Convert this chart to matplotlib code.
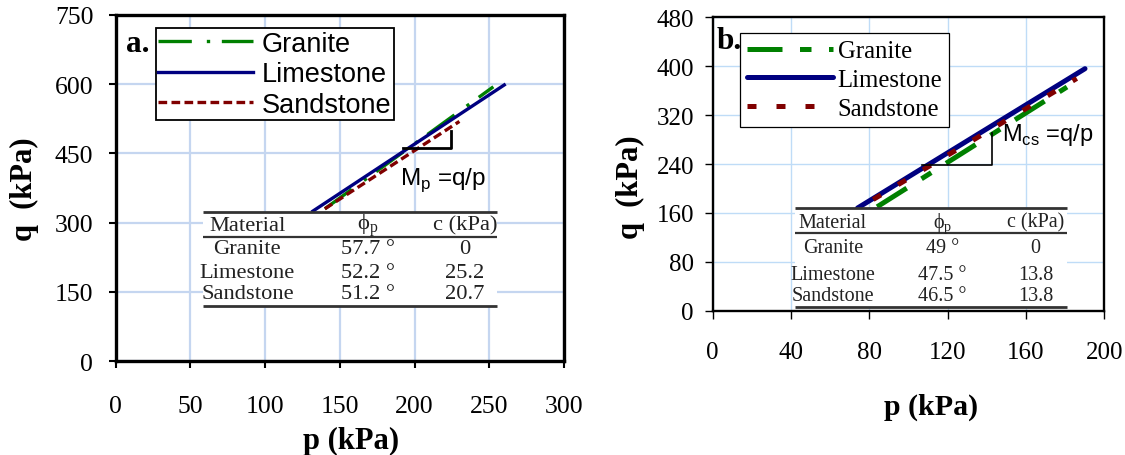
import matplotlib
matplotlib.use("Agg")
import matplotlib.pyplot as plt
from matplotlib.patches import Rectangle

SERIF = ["Liberation Serif", "DejaVu Serif"]
SANS = ["Liberation Sans", "DejaVu Sans"]

materials = ["Granite", "Limestone", "Sandstone"]
line_colors = ["#008000", "#000080", "#800000"]

# panel a: peak state lines (end points)
p_a_granite = [140, 252.7]
q_a_granite = [330, 594]
p_a_limestone = [132, 260]
q_a_limestone = [325, 598]
p_a_sandstone = [140, 230]
q_a_sandstone = [330, 519]

# panel b: critical state lines
p_b_granite = [84, 181]
q_b_granite = [170, 366]
p_b_limestone = [74, 190.2]
q_b_limestone = [168, 396]
p_b_sandstone = [82, 186]
q_b_sandstone = [182, 380]

# slope triangles
tri_a_p = [192.5, 224.2, 224.2]
tri_a_q = [461.6, 461.6, 499]
tri_b_p = [106.8, 142.6, 142.6]
tri_b_q = [237.8, 237.8, 290]

# inset tables
phi_a = ["57.7 °", "52.2 °", "51.2 °"]
c_a = ["0", "25.2", "20.7"]
phi_b = ["49 °", "47.5 °", "46.5 °"]
c_b = ["0", "13.8", "13.8"]

xticks_a = [0, 50, 100, 150, 200, 250, 300]
yticks_a = [0, 150, 300, 450, 600, 750]
xticks_b = [0, 40, 80, 120, 160, 200]
yticks_b = [0, 80, 160, 240, 320, 400, 480]

fig = plt.figure(figsize=(11.25, 4.56), dpi=100)
ax_a = fig.add_axes([0.1027, 0.2055, 0.3987, 0.7601])
ax_b = fig.add_axes([0.6335, 0.3164, 0.348, 0.6434])


def style_axes(ax, xt, yt, spine_w, tick_size, xpad, ypad, grid_c, grid_w,
               tick_w, tick_len):
    ax.set_xlim(xt[0], xt[-1])
    ax.set_ylim(yt[0], yt[-1])
    ax.set_xticks(xt)
    ax.set_yticks(yt)
    ax.grid(True, color=grid_c, lw=grid_w, zorder=0)
    ax.set_axisbelow(True)
    for s in ax.spines.values():
        s.set_linewidth(spine_w)
        s.set_color("black")
    ax.tick_params(axis="both", direction="out", length=tick_len,
                   width=tick_w, labelsize=tick_size)
    ax.tick_params(axis="x", pad=xpad)
    ax.tick_params(axis="y", pad=ypad)
    for lab in ax.get_xticklabels() + ax.get_yticklabels():
        lab.set_family(SERIF)


def draw_table(ax, x0, x1, y_top, y_mid, y_bot, rows_y, cols_x, phis, cs, fs):
    ax.add_patch(Rectangle((x0, y_bot), x1 - x0, y_top - y_bot,
                           transform=ax.transAxes, facecolor="white",
                           edgecolor="none", zorder=5))
    for y, lw in [(y_top, 2.0), (y_mid, 1.6), (y_bot, 2.0)]:
        ax.plot([x0, x1], [y, y], transform=ax.transAxes, color="#333333",
                lw=lw, zorder=6, solid_capstyle="butt", clip_on=False)
    header = ["Material", "ϕ$_\\mathregular{p}$", "c (kPa)"]
    for cx, h in zip(cols_x, header):
        ax.text(cx, rows_y[0], h, transform=ax.transAxes, ha="center",
                va="center", fontsize=fs, family=SERIF, color="#222222",
                zorder=7)
    for i, name in enumerate(materials):
        y = rows_y[i + 1]
        for cx, t in zip(cols_x, [name, phis[i], cs[i]]):
            ax.text(cx, y, t, transform=ax.transAxes, ha="center",
                    va="center", fontsize=fs, family=SERIF,
                    color="#222222", zorder=7)


# ---------------- panel a ----------------
style_axes(ax_a, xticks_a, yticks_a, 2.4, 18.5, 19, 11,
           "#c5d6f0", 1.6, 1.5, 5)
ax_a.plot(p_a_granite, q_a_granite, color=line_colors[0], lw=2.4,
          dashes=(10, 4.5, 1, 3.5), label="Granite", zorder=3)
ax_a.plot(p_a_limestone, q_a_limestone, color=line_colors[1], lw=2.4,
          label="Limestone", zorder=3)
ax_a.plot(p_a_sandstone, q_a_sandstone, color=line_colors[2], lw=2.4,
          dashes=(2.6, 1.3), label="Sandstone", zorder=3)
ax_a.plot(tri_a_p, tri_a_q, color="black", lw=2.0, zorder=4)
ax_a.text(0.635, 0.512, "M$_\\mathregular{p}$ =q/p", transform=ax_a.transAxes,
          fontsize=17.5, family=SANS, va="baseline", ha="left")
ax_a.text(0.0495, 0.918, "a.", transform=ax_a.transAxes, fontsize=22.5,
          family=SERIF, weight="bold", ha="center", va="center")
leg_a = ax_a.legend(loc="upper left", bbox_to_anchor=(0.0895, 0.962),
                    borderaxespad=0, prop={"family": SANS, "size": 19.5},
                    handlelength=3.5, handletextpad=0.33, labelspacing=0.17,
                    borderpad=0.1, fancybox=False, framealpha=1)
leg_a.get_frame().set_edgecolor("black")
leg_a.get_frame().set_linewidth(1.3)
draw_table(ax_a, 0.196, 0.850, 0.4316, 0.3595, 0.1587,
           [0.3932, 0.324, 0.2568, 0.1942], [0.294, 0.562, 0.779],
           phi_a, c_a, 16.2)
ax_a.set_xlabel("p (kPa)", fontsize=22, family=SERIF, weight="bold")
ax_a.set_ylabel("q  (kPa)", fontsize=22, family=SERIF, weight="bold")
ax_a.xaxis.set_label_coords(0.524, -0.186)
ax_a.yaxis.set_label_coords(-0.1706, 0.4994)

# ---------------- panel b ----------------
style_axes(ax_b, xticks_b, yticks_b, 1.7, 18, 16, 8,
           "#bfdcf7", 1.0, 1.0, 5.5)
ax_b.plot(p_b_granite, q_b_granite, color=line_colors[0], lw=3.6,
          dashes=(7, 3.5, 2.3, 3.5), label="Granite", zorder=3)
ax_b.plot(p_b_limestone, q_b_limestone, color=line_colors[1], lw=3.6,
          label="Limestone", zorder=3, solid_capstyle="round")
ax_b.plot(p_b_sandstone, q_b_sandstone, color=line_colors[2], lw=3.6,
          dashes=(1.8, 4), label="Sandstone", zorder=3)
ax_b.plot(tri_b_p, tri_b_q, color="black", lw=1.2, zorder=4)
ax_b.text(0.740, 0.581, "M$_\\mathregular{cs}$ =q/p", transform=ax_b.transAxes,
          fontsize=17, family=SANS, va="baseline", ha="left")
ax_b.text(0.042, 0.921, "b.", transform=ax_b.transAxes, fontsize=22.5,
          family=SERIF, weight="bold", ha="center", va="center")
leg_b = ax_b.legend(loc="upper left", bbox_to_anchor=(0.0702, 0.9466),
                    borderaxespad=0, prop={"family": SERIF, "size": 17.8},
                    handlelength=3.46, handletextpad=0.2, labelspacing=0.26,
                    borderpad=0.28, fancybox=False, framealpha=1)
leg_b.get_frame().set_edgecolor("black")
leg_b.get_frame().set_linewidth(0.9)
draw_table(ax_b, 0.210, 0.904, 0.349, 0.2638, 0.0116,
           [0.3013, 0.2161, 0.1251, 0.0511], [0.307, 0.587, 0.825],
           phi_b, c_b, 14.5)
ax_b.set_xlabel("p (kPa)", fontsize=21.5, family=SERIF, weight="bold")
ax_b.set_ylabel("q  (kPa)", fontsize=22, family=SERIF, weight="bold")
ax_b.xaxis.set_label_coords(0.559, -0.278)
ax_b.yaxis.set_label_coords(-0.174, 0.426)

fig.savefig("out.png", dpi=100)
